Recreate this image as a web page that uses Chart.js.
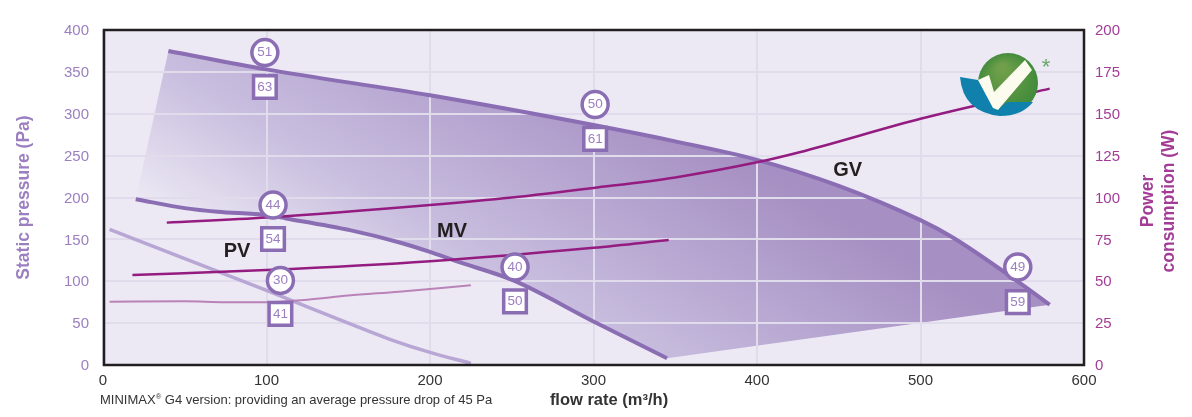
<!DOCTYPE html>
<html>
<head>
<meta charset="utf-8">
<script src="https://cdn.jsdelivr.net/npm/chart.js@4"></script>
<style>
  body { margin: 0; background: #fff; }
  #wrap { position: relative; width: 1192px; height: 417px; }
  #note { position: absolute; left: 100px; top: 392px; font: 13px "Liberation Sans", sans-serif; color: #333; white-space: nowrap; }
  #note sup { font-size: 7.5px; line-height: 0; }
</style>
</head>
<body>
<div id="wrap">
  <canvas id="fanChart" width="1192" height="417"></canvas>
  <div id="note">MINIMAX<sup>®</sup> G4 version: providing an average pressure drop of 45 Pa</div>
</div>
<script>
// pressure curves, Pa
const gvFlow = [40, 100, 200, 300, 350, 400, 450, 500, 520, 560, 579];
const gvPressure = [375, 353, 322, 286.5, 267, 245, 214, 173, 152, 99, 72];
const mvFlow = [20, 51, 70, 100, 112, 151, 182, 200, 216, 251, 300, 345];
const mvPressure = [198, 187, 183, 179, 175, 161, 146, 135, 124, 101, 52, 8];
const pvFlow = [4, 50, 100, 150, 175, 200, 225];
const pvPressure = [162, 127, 89, 50, 31, 15, 2];

// power curves, W
const gvPowerFlow = [39, 100, 200, 250, 300, 350, 400, 426, 500, 579];
const gvPower = [85, 88, 95.5, 100, 105.7, 112, 121, 127, 147, 165];
const mvPowerFlow = [18, 100, 200, 300, 346];
const mvPower = [53.7, 56.7, 62, 70, 74.6];
const pvPowerFlow = [4, 50, 75, 100, 125, 150, 181, 225];
const pvPower = [37.8, 38, 37.5, 37.5, 39, 41.5, 43.8, 47.6];

// sound level tags
const circleFlow = [99, 301, 104, 252, 108.5, 559.5];
const circlePressure = [373, 311, 191, 117, 101, 117];
const circleText = ['51', '50', '44', '40', '30', '49'];
const squareFlow = [99, 301, 104, 252, 108.5, 559.5];
const squarePressure = [332, 270, 150.5, 76, 61, 75];
const squareText = ['63', '61', '54', '50', '41', '59'];

const curveNames = ['GV', 'MV', 'PV'];
const curveNameFlow = [455.5, 213.5, 82];
const curveNamePressure = [232, 160, 136];

const pressureTicks = [0, 50, 100, 150, 200, 250, 300, 350, 400];
const powerTicks = [0, 25, 50, 75, 100, 125, 150, 175, 200];
const flowTicks = [0, 100, 200, 300, 400, 500, 600];

function xy(xs, ys) {
  return xs.map((x, i) => ({ x: x, y: ys[i] }));
}

// the shaded working area between the GV and MV curves
const areaTop = [{ x: 20, y: 198 }].concat(xy(gvFlow, gvPressure));
const areaBottom = xy(mvFlow, mvPressure).concat([{ x: 579, y: 72 }]);

const PURPLE = '#8a6db3';
const LABEL = '#9b7fc0';
const POWER = '#941c80';
const POWER_TEXT = '#a23c96';
const FONT = '"Liberation Sans", sans-serif';

function areaGradient(context) {
  const c = context.chart.ctx;
  const g = c.createLinearGradient(135, 199, 353, -157);
  g.addColorStop(0, 'rgba(160,140,198,0)');
  g.addColorStop(0.3, 'rgba(160,140,198,0.45)');
  g.addColorStop(0.85, 'rgba(166,143,194,1)');
  g.addColorStop(1, 'rgba(166,143,194,1)');
  return g;
}

function curve(label, points, color, width, axis) {
  return {
    label: label, data: points, borderColor: color, borderWidth: width,
    yAxisID: axis, pointRadius: 0, fill: false, cubicInterpolationMode: 'monotone',
    borderCapStyle: 'butt', order: 2
  };
}

function drawText(c, text, x, y, font, color) {
  c.font = font;
  c.fillStyle = color;
  c.textAlign = 'center';
  c.textBaseline = 'middle';
  c.fillText(text, x, y);
}

const overlay = {
  id: 'overlay',
  afterDatasetsDraw(chart) {
    const c = chart.ctx, xs = chart.scales.x, ys = chart.scales.y, a = chart.chartArea;
    c.save();

    // logo
    const green = c.createRadialGradient(1002, 68, 4, 1008, 83, 31);
    green.addColorStop(0, '#6f9f4a');
    green.addColorStop(1, '#3f8a3a');
    c.fillStyle = green;
    c.beginPath();
    c.arc(1008, 83, 30, 0, Math.PI * 2);
    c.fill();
    c.fillStyle = '#1080ad';
    c.beginPath();
    c.moveTo(960, 77);
    c.quadraticCurveTo(963, 112, 1000, 116);
    c.quadraticCurveTo(1022, 116, 1033, 102);
    c.lineTo(1007, 102);
    c.lineTo(997, 110);
    c.lineTo(978, 80);
    c.closePath();
    c.fill();
    c.fillStyle = '#fbfbee';
    c.beginPath();
    c.moveTo(978, 80);
    c.lineTo(989, 75);
    c.lineTo(994, 92);
    c.lineTo(1025, 60);
    c.lineTo(1032, 70);
    c.lineTo(998, 110);
    c.lineTo(993, 108);
    c.closePath();
    c.fill();
    drawText(c, '*', 1046, 68, '22px ' + FONT, '#6aa66a');

    // frame
    c.strokeStyle = '#231f20';
    c.lineWidth = 2.5;
    c.strokeRect(a.left + 1, a.top, a.right - a.left - 1, a.bottom - a.top);

    // tag numbers
    circleText.forEach((t, i) => drawText(c, t, xs.getPixelForValue(circleFlow[i]), ys.getPixelForValue(circlePressure[i]), '13.5px ' + FONT, LABEL));
    squareText.forEach((t, i) => drawText(c, t, xs.getPixelForValue(squareFlow[i]), ys.getPixelForValue(squarePressure[i]), '13.5px ' + FONT, LABEL));
    curveNames.forEach((t, i) => drawText(c, t, xs.getPixelForValue(curveNameFlow[i]), ys.getPixelForValue(curveNamePressure[i]), 'bold 20px ' + FONT, '#231f20'));

    drawText(c, 'flow rate (m³/h)', 609, 400, 'bold 16.5px ' + FONT, '#333');

    // right axis title reads bottom to top
    c.translate(1159, 201);
    c.rotate(-Math.PI / 2);
    drawText(c, 'Power', 0, -10.5, 'bold 17.5px ' + FONT, POWER_TEXT);
    drawText(c, 'consumption (W)', 0, 10.5, 'bold 17.5px ' + FONT, POWER_TEXT);
    c.restore();
  }
};

new Chart(document.getElementById('fanChart'), {
  type: 'line',
  data: {
    datasets: [
      { label: 'tags', data: xy(circleFlow, circlePressure), showLine: false, pointStyle: 'circle', pointRadius: 13, pointBorderWidth: 3.5, pointBackgroundColor: '#fff', pointBorderColor: PURPLE, order: 0 },
      { label: 'tags2', data: xy(squareFlow, squarePressure), showLine: false, pointStyle: 'rect', pointRadius: 16, pointBorderWidth: 3.5, pointBackgroundColor: '#fff', pointBorderColor: PURPLE, order: 0 },
      curve('GV power', xy(gvPowerFlow, gvPower), POWER, 2.5, 'y1'),
      curve('MV power', xy(mvPowerFlow, mvPower), POWER, 2.5, 'y1'),
      curve('PV power', xy(pvPowerFlow, pvPower), '#b983b8', 2, 'y1'),
      curve('GV', xy(gvFlow, gvPressure), PURPLE, 4, 'y'),
      curve('MV', xy(mvFlow, mvPressure), PURPLE, 4, 'y'),
      curve('PV', xy(pvFlow, pvPressure), '#b8a6d4', 3.5, 'y'),
      { label: 'area top', data: areaTop, yAxisID: 'y', borderWidth: 0, pointRadius: 0, fill: '+1', backgroundColor: areaGradient, order: 5 },
      { label: 'area bottom', data: areaBottom, yAxisID: 'y', borderWidth: 0, pointRadius: 0, fill: false, order: 6 },
      { label: 'plot', data: [{ x: 0, y: 400 }, { x: 600, y: 400 }], yAxisID: 'y', borderWidth: 0, pointRadius: 0, fill: 'origin', backgroundColor: '#ece9f4', order: 7 }
    ]
  },
  options: {
    responsive: false,
    animation: false,
    layout: { padding: { top: 30 } },
    plugins: {
      legend: { display: false },
      tooltip: { enabled: false },
      filler: { drawTime: 'beforeDraw' }
    },
    scales: {
      x: {
        type: 'linear', min: 0, max: 600,
        afterFit(s) { s.height = 52; },
        afterBuildTicks(s) { s.ticks = flowTicks.map(v => ({ value: v })); },
        grid: { color: '#e1dcec', lineWidth: 2, drawTicks: false },
        border: { display: false },
        ticks: { color: '#333', font: { family: FONT, size: 15 }, padding: 7, maxRotation: 0 }
      },
      y: {
        min: 0, max: 400,
        afterFit(s) { s.width = 103; },
        afterBuildTicks(s) { s.ticks = pressureTicks.map(v => ({ value: v })); },
        grid: { color: '#e1dcec', lineWidth: 2, drawTicks: false },
        border: { display: false },
        ticks: { color: LABEL, font: { family: FONT, size: 15 }, padding: 14, labelOffset: 1 },
        title: { display: true, text: 'Static pressure (Pa)', color: LABEL, font: { family: FONT, size: 17.5, weight: 'bold' }, padding: { top: 14, bottom: 0 } }
      },
      y1: {
        position: 'right', min: 0, max: 200,
        afterFit(s) { s.width = 108; },
        afterBuildTicks(s) { s.ticks = powerTicks.map(v => ({ value: v })); },
        grid: { display: false, drawTicks: false },
        border: { display: false },
        ticks: { color: POWER_TEXT, font: { family: FONT, size: 15 }, padding: 11, labelOffset: 1 }
      }
    }
  },
  plugins: [overlay]
});
</script>
</body>
</html>
